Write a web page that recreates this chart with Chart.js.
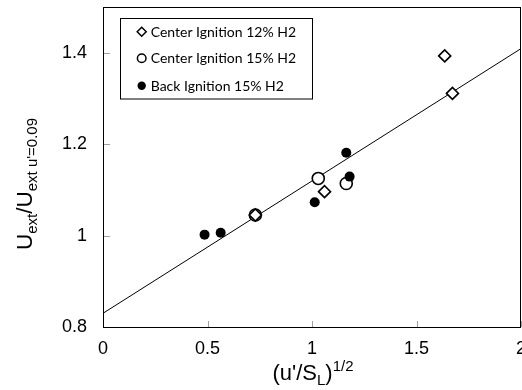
<!DOCTYPE html>
<html><head><meta charset="utf-8">
<script src="https://cdn.jsdelivr.net/npm/chart.js"></script>
<style>html,body{margin:0;padding:0;background:#fff}</style>
</head><body>
<canvas id="c" width="522" height="390"></canvas>
<script>
const seriesLabels = ['Center Ignition 12% H2', 'Center Ignition 15% H2', 'Back Ignition 15% H2'];
const c12X = [0.729, 1.06, 1.635, 1.672];
const c12Y = [1.045, 1.096, 1.393, 1.311];
const c15X = [0.729, 1.030, 1.164];
const c15Y = [1.045, 1.125, 1.114];
const b15X = [0.486, 0.563, 1.013, 1.164, 1.180];
const b15Y = [1.002, 1.006, 1.073, 1.181, 1.129];
const fitX = [0, 2];
const fitY = [0.83, 1.409];
const xTicks = [0, 0.5, 1, 1.5, 2];
const yTicks = [0.8, 1, 1.2, 1.4];

const pts = (xs, ys) => xs.map((x, i) => ({x: x, y: ys[i]}));
const SANS = "'Liberation Sans', Arial, sans-serif";
const tickFont = {family: SANS, size: 18};
const noPad = () => ({left: 0, top: 0, right: 0, bottom: 0});

function drawRuns(ctx, runs, cx, baseY) {
  let total = 0;
  runs.forEach(r => { ctx.font = r.size + 'px ' + SANS; r.w = ctx.measureText(r.t).width; total += r.w; });
  let x = cx - total / 2;
  ctx.textAlign = 'left';
  ctx.textBaseline = 'alphabetic';
  runs.forEach(r => { ctx.font = r.size + 'px ' + SANS; ctx.fillText(r.t, x, baseY + r.dy); x += r.w; });
}

const deco = {
  id: 'deco',
  afterDraw(chart) {
    const ctx = chart.ctx, a = chart.chartArea;
    const xs = chart.scales.x, ys = chart.scales.y;
    ctx.save();
    // inside tick marks
    ctx.strokeStyle = '#a0a0a0';
    ctx.lineWidth = 1;
    xTicks.forEach(v => {
      const px = Math.round(xs.getPixelForValue(v)) + 0.5;
      ctx.beginPath(); ctx.moveTo(px, a.bottom); ctx.lineTo(px, a.bottom - 6); ctx.stroke();
    });
    yTicks.forEach(v => {
      const py = Math.round(ys.getPixelForValue(v)) + 0.5;
      ctx.beginPath(); ctx.moveTo(a.left, py); ctx.lineTo(a.left + 7, py); ctx.stroke();
    });
    // frame
    ctx.strokeStyle = '#000';
    ctx.strokeRect(Math.round(a.left) + 0.5, Math.round(a.top) + 0.5, Math.round(a.right - a.left) - 1, Math.round(a.bottom - a.top));
    // axis titles
    ctx.fillStyle = '#000';
    drawRuns(ctx, [
      {t: "(u'/S", size: 22, dy: 0},
      {t: 'L', size: 15, dy: 5},
      {t: ')', size: 22, dy: 0},
      {t: '1/2', size: 15, dy: -9}
    ], 313, 380);
    ctx.save();
    ctx.translate(32, 184);
    ctx.rotate(-Math.PI / 2);
    drawRuns(ctx, [
      {t: 'U', size: 22.5, dy: 0},
      {t: 'ext', size: 15, dy: 5},
      {t: '/U', size: 22.5, dy: 0},
      {t: "ext u'=0.09", size: 15, dy: 5}
    ], 0, 0);
    ctx.restore();
    // legend
    ctx.fillStyle = '#fff';
    ctx.fillRect(121, 19, 191, 80);
    ctx.strokeStyle = '#000';
    ctx.lineWidth = 1;
    ctx.strokeRect(120.5, 18.5, 192, 80.5);
    const rows = [31.7, 58.3, 85.7];
    const mx = 141.7;
    ctx.lineWidth = 1.5;
    let y = rows[0];
    ctx.beginPath(); ctx.moveTo(mx, y - 4.5); ctx.lineTo(mx + 4.5, y); ctx.lineTo(mx, y + 4.5); ctx.lineTo(mx - 4.5, y); ctx.closePath();
    ctx.fillStyle = '#fff'; ctx.fill(); ctx.stroke();
    y = rows[1];
    ctx.beginPath(); ctx.arc(mx, y, 4.3, 0, Math.PI * 2); ctx.fill(); ctx.stroke();
    y = rows[2];
    ctx.beginPath(); ctx.arc(mx, y, 4.2, 0, Math.PI * 2); ctx.fillStyle = '#000'; ctx.fill();
    ctx.fillStyle = '#000';
    ctx.font = "14px Lato, 'Open Sans', sans-serif";
    ctx.textAlign = 'left';
    ctx.textBaseline = 'middle';
    seriesLabels.forEach((t, i) => ctx.fillText(t, 150.7, rows[i] + 0.5));
    ctx.restore();
  }
};

new Chart(document.getElementById('c'), {
  type: 'scatter',
  data: {
    datasets: [
      {label: seriesLabels[0], data: pts(c12X, c12Y), pointStyle: 'rectRot', pointRadius: 6, pointHoverRadius: 6,
       borderWidth: 1.6, borderColor: '#000', backgroundColor: '#fff', order: 0},
      {label: seriesLabels[2], data: pts(b15X, b15Y), pointStyle: 'circle', pointRadius: 5, pointHoverRadius: 5,
       borderWidth: 0, borderColor: '#000', backgroundColor: '#000', order: 1},
      {label: seriesLabels[1], data: pts(c15X, c15Y), pointStyle: 'circle', pointRadius: 6, pointHoverRadius: 6,
       borderWidth: 1.6, borderColor: '#000', backgroundColor: '#fff', order: 2},
      {label: 'fit', data: pts(fitX, fitY), showLine: true, pointRadius: 0, borderColor: '#000', borderWidth: 1,
       backgroundColor: '#000', order: 3}
    ]
  },
  options: {
    responsive: false,
    animation: false,
    devicePixelRatio: 1,
    layout: {autoPadding: false, padding: {top: 7, right: 1, left: 0, bottom: 0}},
    plugins: {legend: {display: false}, tooltip: {enabled: false}, title: {display: false}},
    scales: {
      x: {
        type: 'linear', min: 0, max: 2,
        afterBuildTicks: s => { s.ticks = xTicks.map(v => ({value: v})); },
        ticks: {font: tickFont, color: '#000', padding: 11, maxRotation: 0, autoSkip: false, callback: v => String(v)},
        grid: {display: false, drawTicks: false},
        border: {display: false},
        afterFit: s => { s.height = 63; s.paddingRight = 0; s.paddingLeft = 0; s.getPadding = noPad; }
      },
      y: {
        type: 'linear', min: 0.8, max: 1.5,
        afterBuildTicks: s => { s.ticks = yTicks.map(v => ({value: v})); },
        ticks: {font: tickFont, color: '#000', padding: 16, autoSkip: false, callback: v => String(Math.round(v * 10) / 10)},
        grid: {display: false, drawTicks: false},
        border: {display: false},
        afterFit: s => { s.width = 103; s.paddingTop = 0; s.paddingBottom = 0; s.getPadding = noPad; }
      }
    }
  },
  plugins: [deco]
});
</script>
</body></html>
